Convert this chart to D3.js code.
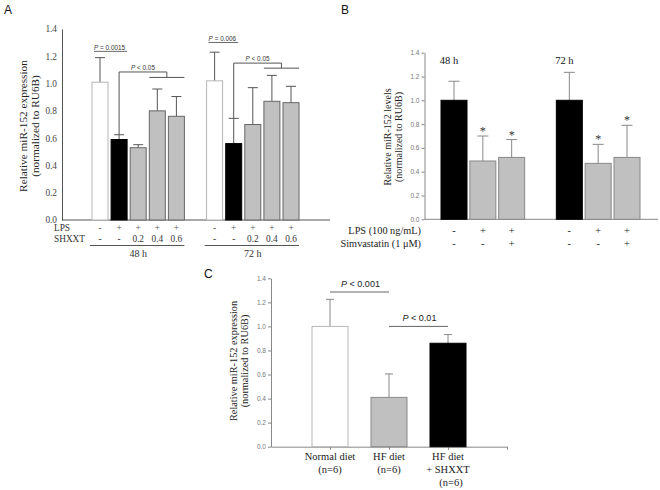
<!DOCTYPE html>
<html><head><meta charset="utf-8">
<script src="https://cdn.jsdelivr.net/npm/d3@7"></script>
<style>body{margin:0;background:#fff} svg{display:block}</style>
</head><body>
<svg id="c" width="660" height="490"></svg>
<script>
// ---------- DATA ----------
const yTicks = [0, 0.2, 0.4, 0.6, 0.8, 1.0, 1.2, 1.4];

// Panel A
const aTimes = ["48 h", "72 h"];
const aLPS = ["-", "+", "+", "+", "+"];
const aSHXXT = ["-", "-", "0.2", "0.4", "0.6"];
const aFill = ["white", "black", "gray", "gray", "gray"];
const a48 = [1.01, 0.59, 0.53, 0.80, 0.76];
const a48Err = [0.18, 0.035, 0.022, 0.16, 0.145];
const a72 = [1.02, 0.56, 0.70, 0.87, 0.86];
const a72Err = [0.21, 0.185, 0.27, 0.19, 0.12];
const aPText = ["P = 0.0015", "P = 0.006"];
const aPLevel = [1.245, 1.31];
const aBracketText = ["P < 0.05", "P < 0.05"];
const aBracketTop = [1.085, 1.15];
const aBracketLow = [1.045, 1.113];

// Panel B
const bTimes = ["48 h", "72 h"];
const bLPS = ["-", "+", "+"];
const bSimva = ["-", "-", "+"];
const bFill = ["black", "gray", "gray"];
const b48 = [1.0, 0.49, 0.52];
const b48Err = [0.16, 0.21, 0.15];
const b72 = [1.0, 0.47, 0.52];
const b72Err = [0.235, 0.16, 0.27];
const bStar = [false, true, true];

// Panel C
const cCats = [["Normal diet", "(n=6)"], ["HF diet", "(n=6)"], ["HF diet", "+ SHXXT", "(n=6)"]];
const cFill = ["white", "gray", "black"];
const cVals = [1.0, 0.41, 0.86];
const cErr = [0.225, 0.195, 0.072];
const cPText = ["P < 0.001", "P < 0.01"];
const cPLevel = [1.286, 1.0];

// ---------- STYLE ----------
const serif = "'Liberation Serif','Times New Roman',serif";
const sans = "'Liberation Sans',Arial,sans-serif";
const fillMap = { white: "#ffffff", black: "#000000", gray: "#c0c0c0" };
const svg = d3.select("#c");

function barStyle(sel, type, grayStroke, whiteStroke) {
  sel.attr("fill", fillMap[type])
     .attr("stroke", type === "black" ? "#000" : (type === "white" ? whiteStroke : grayStroke))
     .attr("stroke-width", 1);
}

function rotLabel(g, x1, x2, yc, lines, size) {
  [x1, x2].forEach((x, i) => {
    g.append("text").attr("transform", `translate(${x},${yc}) rotate(-90)`)
      .attr("text-anchor", "middle").attr("dy", "0.35em")
      .attr("font-family", serif).attr("font-size", size).attr("fill", "#222")
      .text(lines[i]);
  });
}

// ---------- PANEL A ----------
{
  const g = svg.append("g");
  const y = d3.scaleLinear().domain([0, 1.4]).range([220, 29]);
  const x = d3.scaleLinear().domain([0, 10]).range([100, 291]);
  const axX = 62;
  const yAxis = g.append("g").attr("transform", `translate(${axX},0)`)
    .call(d3.axisLeft(y).tickValues(yTicks).tickFormat(d3.format(".1f")).tickSize(0).tickPadding(5));
  yAxis.attr("font-family", null);
  yAxis.select(".domain").attr("stroke", "#555");
  yAxis.selectAll("text").style("font-family", serif).attr("font-size", 9.3).attr("fill", "#444");
  g.append("line").attr("x1", axX).attr("x2", 330).attr("y1", y(0)).attr("y2", y(0)).attr("stroke", "#555");

  const data = [];
  [a48, a72].forEach((vals, gi) => {
    const errs = gi === 0 ? a48Err : a72Err;
    vals.forEach((v, i) => data.push({ slot: gi * 6 + i, v, e: errs[i], t: aFill[i] }));
  });
  const bw = 16;
  data.forEach(d => {
    const cx = x(d.slot);
    g.append("line").attr("x1", cx).attr("x2", cx).attr("y1", y(d.v)).attr("y2", y(d.v + d.e)).attr("stroke", "#555");
    g.append("line").attr("x1", cx - 5).attr("x2", cx + 5).attr("y1", y(d.v + d.e)).attr("y2", y(d.v + d.e)).attr("stroke", "#555");
    g.append("rect").attr("x", cx - bw / 2).attr("y", y(d.v)).attr("width", bw).attr("height", y(0) - y(d.v))
      .call(s => barStyle(s, d.t, "#666", "#b5b5b5"));
  });

  // x labels
  g.append("text").attr("x", 54).attr("y", 231).attr("font-family", serif).attr("font-size", 9.3).attr("fill", "#333").text("LPS");
  g.append("text").attr("x", 54).attr("y", 242).attr("font-family", serif).attr("font-size", 9.3).attr("fill", "#333").text("SHXXT");
  [0, 1].forEach(gi => {
    aLPS.forEach((s, i) => g.append("text").attr("x", x(gi * 6 + i)).attr("y", 230.5).attr("text-anchor", "middle")
      .attr("font-family", serif).attr("font-size", 9.3).attr("fill", "#555").text(s));
    aSHXXT.forEach((s, i) => g.append("text").attr("x", x(gi * 6 + i)).attr("y", 242).attr("text-anchor", "middle")
      .attr("font-family", serif).attr("font-size", 9.3).attr("fill", "#333").text(s));
    g.append("line").attr("x1", x(gi * 6) - 10).attr("x2", x(gi * 6 + 4) + 8).attr("y1", 245.5).attr("y2", 245.5).attr("stroke", "#555");
    g.append("text").attr("x", (x(gi * 6) + x(gi * 6 + 4)) / 2).attr("y", 256.5).attr("text-anchor", "middle")
      .attr("font-family", serif).attr("font-size", 10).attr("fill", "#333").text(aTimes[gi]);

    // p-value underlined
    const px = x(gi * 6) - 6;
    const t = g.append("text").attr("x", px).attr("y", y(aPLevel[gi])).attr("font-family", sans).attr("font-size", 6.4).attr("fill", "#333");
    t.append("tspan").attr("font-style", "italic").text("P");
    t.append("tspan").text(aPText[gi].slice(1));
    const w = t.node().getComputedTextLength();
    g.append("line").attr("x1", px).attr("x2", px + w + 2).attr("y1", y(aPLevel[gi]) + 1.2).attr("y2", y(aPLevel[gi]) + 1.2).attr("stroke", "#444").attr("stroke-width", 0.8);

    // bracket
    const ctrl = data.find(d => d.slot === gi * 6 + 1);
    const xl = x(gi * 6 + 1);
    const xr = (x(gi * 6 + 3) + x(gi * 6 + 4)) / 2;
    const yt = y(aBracketTop[gi]);
    const yl = y(aBracketLow[gi]);
    g.append("path").attr("d", `M${xl},${y(ctrl.v + ctrl.e)}V${yt}H${xr}V${yl}`).attr("fill", "none").attr("stroke", "#555");
    g.append("line").attr("x1", x(gi * 6 + 3) - 8).attr("x2", x(gi * 6 + 4) + 8).attr("y1", yl).attr("y2", yl).attr("stroke", "#555");
    const bt = g.append("text").attr("x", (xl + xr) / 2).attr("y", yt - 2).attr("text-anchor", "middle").attr("font-family", sans).attr("font-size", 6.4).attr("fill", "#333");
    bt.append("tspan").attr("font-style", "italic").text("P");
    bt.append("tspan").text(aBracketText[gi].slice(1));
  });

  rotLabel(g, 23, 35, 126, ["Relative miR-152 expression", "(normalized to RU6B)"], 11.3);
  g.append("text").attr("x", 4).attr("y", 13.5).attr("font-family", sans).attr("font-size", 12).attr("fill", "#111").text("A");
}

// ---------- PANEL B ----------
{
  const g = svg.append("g");
  const y = d3.scaleLinear().domain([0, 1.4]).range([219.3, 52.7]);
  const x = d3.scaleLinear().domain([0, 6]).range([454, 627]);
  const axX = 424.5;
  const yAxis = g.append("g").attr("transform", `translate(${axX},0)`)
    .call(d3.axisLeft(y).tickValues(yTicks).tickFormat(d3.format(".1f")).tickSize(3).tickSizeOuter(0).tickPadding(2));
  yAxis.selectAll("line,path").attr("stroke", "#888");
  yAxis.selectAll("text").style("font-family", sans).attr("font-size", 6.5).attr("fill", "#777");
  g.append("line").attr("x1", axX).attr("x2", 658).attr("y1", y(0)).attr("y2", y(0)).attr("stroke", "#888");

  const bw = 26;
  [b48, b72].forEach((vals, gi) => {
    const errs = gi === 0 ? b48Err : b72Err;
    vals.forEach((v, i) => {
      const cx = x(gi * 4 + i);
      const top = y(v + errs[i]);
      g.append("line").attr("x1", cx).attr("x2", cx).attr("y1", y(v)).attr("y2", top).attr("stroke", "#888");
      g.append("line").attr("x1", cx - 5.5).attr("x2", cx + 5.5).attr("y1", top).attr("y2", top).attr("stroke", "#888");
      g.append("rect").attr("x", cx - bw / 2).attr("y", y(v)).attr("width", bw).attr("height", y(0) - y(v))
        .call(s => barStyle(s, bFill[i], "#888", "#aaa"));
      if (bStar[i]) g.append("text").attr("x", cx).attr("y", top - 1).attr("text-anchor", "middle")
        .attr("font-family", serif).attr("font-size", 12).attr("fill", "#333").text("*");
      g.append("text").attr("x", cx).attr("y", 233.5).attr("text-anchor", "middle").attr("font-family", serif)
        .attr("font-size", 10.3).attr("fill", "#222").text(bLPS[i]);
      g.append("text").attr("x", cx).attr("y", 246.5).attr("text-anchor", "middle").attr("font-family", serif)
        .attr("font-size", 10.3).attr("fill", "#222").text(bSimva[i]);
    });
    g.append("text").attr("x", x(gi * 4) - 5).attr("y", 64).attr("text-anchor", "middle").attr("font-family", serif)
      .attr("font-size", 10.5).attr("fill", "#111").text(bTimes[gi]);
  });
  g.append("text").attr("x", 421).attr("y", 233.5).attr("text-anchor", "end").attr("font-family", serif)
    .attr("font-size", 10.3).attr("fill", "#222").text("LPS (100 ng/mL)");
  g.append("text").attr("x", 421).attr("y", 246.5).attr("text-anchor", "end").attr("font-family", serif)
    .attr("font-size", 10.3).attr("fill", "#222").text("Simvastatin (1 μM)");

  rotLabel(g, 387, 398.5, 137, ["Relative miR-152 levels", "(normalized to RU6B)"], 10);
  g.append("text").attr("x", 341).attr("y", 13.5).attr("font-family", sans).attr("font-size", 12).attr("fill", "#111").text("B");
}

// ---------- PANEL C ----------
{
  const g = svg.append("g");
  const y = d3.scaleLinear().domain([0, 1.4]).range([446.7, 278.3]);
  const x = d3.scaleLinear().domain([0, 4]).range([271, 507]);
  const yAxis = g.append("g").attr("transform", `translate(${x(0)},0)`)
    .call(d3.axisLeft(y).tickValues(yTicks).tickFormat(d3.format(".1f")).tickSize(3).tickSizeOuter(0).tickPadding(2));
  yAxis.selectAll("line,path").attr("stroke", "#888");
  yAxis.selectAll("text").style("font-family", sans).attr("font-size", 6.5).attr("fill", "#777");
  const xAxis = g.append("g").attr("transform", `translate(0,${y(0)})`)
    .call(d3.axisBottom(x).tickValues([1, 2, 3, 4]).tickFormat("").tickSize(3).tickSizeOuter(0));
  xAxis.selectAll("line,path").attr("stroke", "#888");

  const bw = 36;
  cVals.forEach((v, i) => {
    const cx = x(i + 1);
    const top = y(v + cErr[i]);
    g.append("line").attr("x1", cx).attr("x2", cx).attr("y1", y(v)).attr("y2", top).attr("stroke", "#888");
    g.append("line").attr("x1", cx - 4).attr("x2", cx + 4).attr("y1", top).attr("y2", top).attr("stroke", "#888");
    g.append("rect").attr("x", cx - bw / 2).attr("y", y(v)).attr("width", bw).attr("height", y(0) - y(v))
      .call(s => barStyle(s, cFill[i], "#888", "#b5b5b5"));
    cCats[i].forEach((ln, j) => g.append("text").attr("x", cx + (j === 2 ? 3 : 0)).attr("y", 460 + j * 12.8).attr("text-anchor", "middle")
      .attr("font-family", serif).attr("font-size", 10.5).attr("fill", "#222").text(ln));
  });

  cPText.forEach((p, k) => {
    const x1 = x(k + 1), x2 = x(k + 2), ly = y(cPLevel[k]);
    g.append("line").attr("x1", x1).attr("x2", x2).attr("y1", ly).attr("y2", ly).attr("stroke", "#666");
    const t = g.append("text").attr("x", (x1 + x2) / 2 + 1).attr("y", ly - 5.5).attr("text-anchor", "middle")
      .attr("font-family", sans).attr("font-size", 9).attr("fill", "#222");
    t.append("tspan").attr("font-style", "italic").text("P");
    t.append("tspan").text(p.slice(1));
  });

  rotLabel(g, 233, 244.5, 361, ["Relative miR-152 expression", "(normalized to RU6B)"], 10.3);
  g.append("text").attr("x", 204).attr("y", 278).attr("font-family", sans).attr("font-size", 12).attr("fill", "#111").text("C");
}
</script>
</body></html>
